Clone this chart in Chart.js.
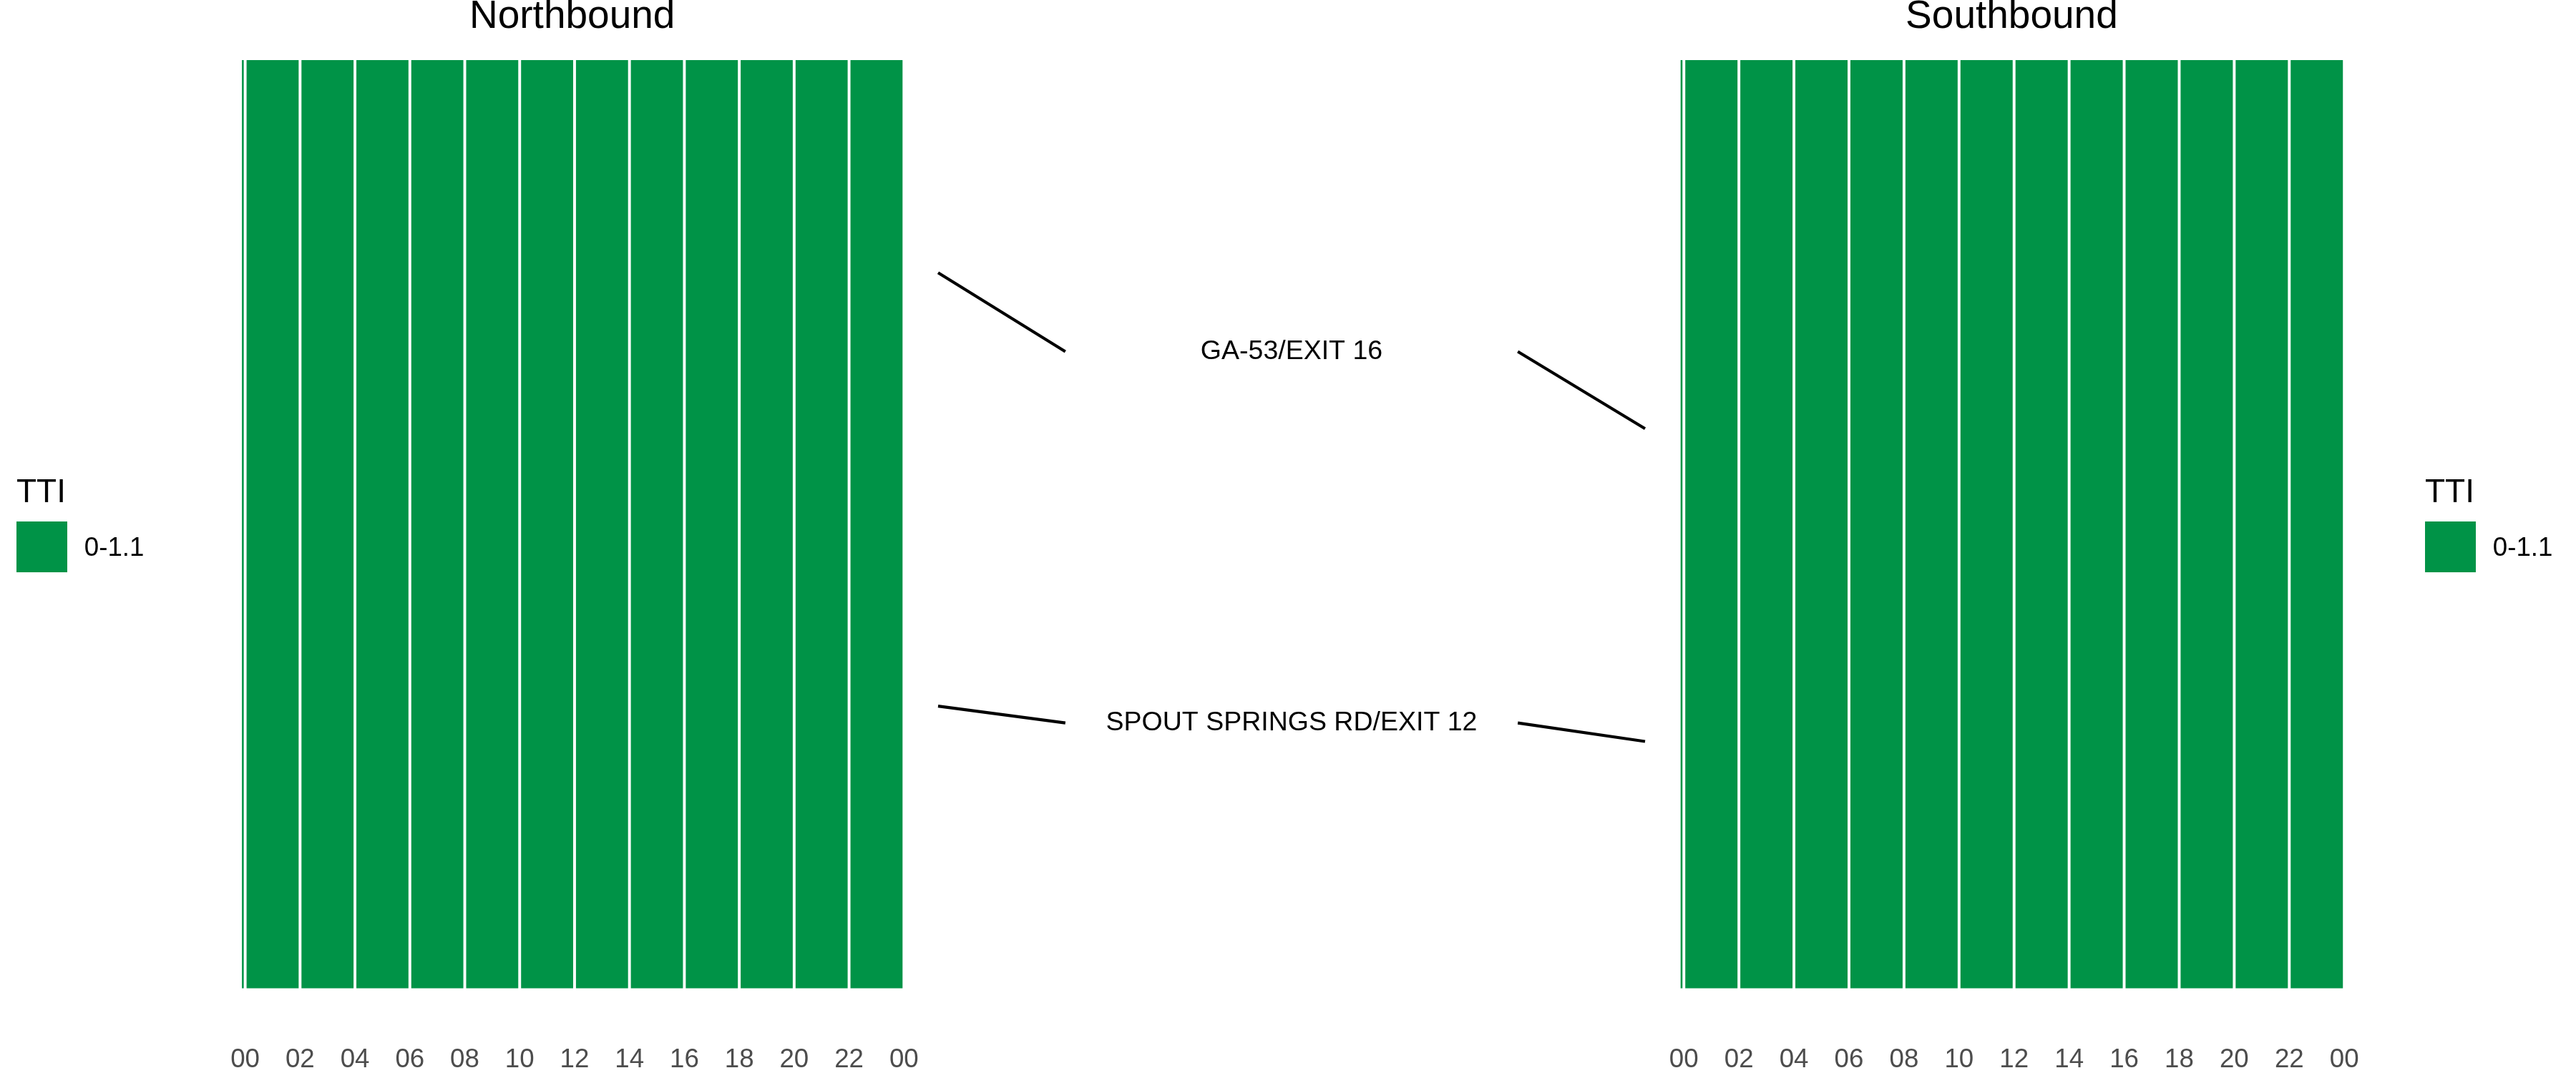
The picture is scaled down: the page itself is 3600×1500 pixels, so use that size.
<!DOCTYPE html>
<html>
<head>
<meta charset="utf-8">
<script src="https://cdn.jsdelivr.net/npm/chart.js@4.4.1/dist/chart.umd.min.js"></script>
<style>
html, body { margin: 0; padding: 0; background: #ffffff; width: 3600px; height: 1500px; overflow: hidden; }
canvas { position: absolute; top: 0; }
</style>
</head>
<body>
<canvas id="nb" width="1300" height="1500" style="left:0px"></canvas>
<canvas id="mid" width="1030" height="1500" style="left:1290px"></canvas>
<canvas id="sb" width="1300" height="1500" style="left:2300px"></canvas>
<script>
// ---------------- DATA ----------------
// Time tiles (hours of day): start and end of each tile
const tileStart = [-0.17, 0, 2, 4, 6, 8, 10, 12, 14, 16, 18, 20, 22];
const tileEnd   = [0, 2, 4, 6, 8, 10, 12, 14, 16, 18, 20, 22, 24];
// TTI class of each tile
const northboundTTI = ['0-1.1','0-1.1','0-1.1','0-1.1','0-1.1','0-1.1','0-1.1','0-1.1','0-1.1','0-1.1','0-1.1','0-1.1','0-1.1'];
const southboundTTI = ['0-1.1','0-1.1','0-1.1','0-1.1','0-1.1','0-1.1','0-1.1','0-1.1','0-1.1','0-1.1','0-1.1','0-1.1','0-1.1'];
// Legend classes and colours
const ttiClasses = ['0-1.1'];
const ttiColors  = ['#009347'];
// X tick values and labels
const tickValues = [0, 2, 4, 6, 8, 10, 12, 14, 16, 18, 20, 22, 24];
const tickLabels = ['00','02','04','06','08','10','12','14','16','18','20','22','00'];
// Exits: relative position down the segment (0 = top, 1 = bottom)
const exitNames          = ['GA-53/EXIT 16', 'SPOUT SPRINGS RD/EXIT 12'];
const exitPosNorthbound  = [0.229, 0.696];
const exitPosLabel       = [0.314, 0.714];
const exitPosSouthbound  = [0.397, 0.734];
// Connector x stops in the middle panel (0 = left edge, 1 = right edge)
const connectorX = [0, 0.18, 0.82, 1];
const exitLabelX = 0.5;

// ---------------- HELPERS ----------------
const FONT = '"Liberation Sans", Arial, Helvetica, sans-serif';
function colorFor(cls) { return ttiColors[ttiClasses.indexOf(cls)]; }

const tickLabelPlugin = {
  id: 'tickLabelPlugin',
  afterDraw(chart, args, opts) {
    const ctx = chart.ctx, xs = chart.scales.x;
    ctx.save();
    ctx.font = '36.7px ' + FONT;
    ctx.fillStyle = '#4D4D4D';
    ctx.textAlign = 'center';
    ctx.textBaseline = 'alphabetic';
    tickValues.forEach((v, i) => {
      ctx.fillText(tickLabels[i], xs.getPixelForValue(v), chart.chartArea.bottom + 110.5);
    });
    ctx.restore();
  }
};

const legendPlugin = {
  id: 'ttiLegend',
  afterDraw(chart, args, opts) {
    if (!opts || opts.x === undefined) return;
    const ctx = chart.ctx;
    ctx.save();
    ctx.fillStyle = '#000000';
    ctx.textAlign = 'left';
    ctx.textBaseline = 'alphabetic';
    ctx.font = '46px ' + FONT;
    ctx.fillText('TTI', opts.x, 702);
    ttiClasses.forEach((cls, i) => {
      const top = 729 + i * 71;
      ctx.fillStyle = ttiColors[i];
      ctx.fillRect(opts.x, top, 71, 71);
      ctx.fillStyle = '#000000';
      ctx.font = '36.7px ' + FONT;
      ctx.fillText(cls, opts.x + 94.8, top + 48);
    });
    ctx.restore();
  }
};

function tileDatasets(classes) {
  return tileStart.map((s, i) => ({
    label: classes[i],
    data: [[s, tileEnd[i]]],
    backgroundColor: colorFor(classes[i]),
    borderColor: '#ffffff',
    borderWidth: { left: 2.3, right: 2.3, top: 0, bottom: 0 },
    borderSkipped: false,
    grouped: false,
    barPercentage: 1,
    categoryPercentage: 1
  }));
}

function panelConfig(title, classes, padLeft, padRight, legendX) {
  return {
    type: 'bar',
    data: { labels: ['segment'], datasets: tileDatasets(classes) },
    options: {
      indexAxis: 'y',
      responsive: false,
      devicePixelRatio: 1,
      animation: false,
      layout: { padding: { left: padLeft, right: padRight, top: 0, bottom: 118.3 } },
      scales: {
        x: { type: 'linear', min: -0.17, max: 24, display: false },
        y: { type: 'category', display: false }
      },
      plugins: {
        legend: { display: false },
        tooltip: { enabled: false },
        title: {
          display: true,
          text: title,
          color: '#000000',
          font: { family: FONT, size: 55, weight: 'normal', lineHeight: 0.75 },
          padding: { top: 3, bottom: 39.75 }
        },
        ttiLegend: { x: legendX }
      }
    },
    plugins: [tickLabelPlugin, legendPlugin]
  };
}

new Chart(document.getElementById('nb'), panelConfig('Northbound', northboundTTI, 336.1, 1300 - 1263.3, 23));
new Chart(document.getElementById('sb'), panelConfig('Southbound', southboundTTI, 46.7, 1300 - 976.2, 3389 - 2300));

// Middle panel: connectors and exit labels
const connectorSets = [];
exitNames.forEach((name, i) => {
  connectorSets.push({
    data: [{ x: connectorX[0], y: exitPosNorthbound[i] }, { x: connectorX[1], y: exitPosLabel[i] }]
  });
  connectorSets.push({
    data: [{ x: connectorX[2], y: exitPosLabel[i] }, { x: connectorX[3], y: exitPosSouthbound[i] }]
  });
});

const exitLabelPlugin = {
  id: 'exitLabels',
  afterDatasetsDraw(chart) {
    const ctx = chart.ctx, xs = chart.scales.x, ys = chart.scales.y;
    ctx.save();
    ctx.font = '37.5px ' + FONT;
    ctx.fillStyle = '#000000';
    ctx.textAlign = 'center';
    ctx.textBaseline = 'middle';
    exitNames.forEach((name, i) => {
      ctx.fillText(name, xs.getPixelForValue(exitLabelX), ys.getPixelForValue(exitPosLabel[i]));
    });
    ctx.restore();
  }
};

new Chart(document.getElementById('mid'), {
  type: 'scatter',
  data: {
    datasets: connectorSets.map(d => ({
      data: d.data,
      showLine: true,
      borderColor: '#000000',
      borderWidth: 4.2,
      pointRadius: 0,
      pointHoverRadius: 0,
      fill: false,
      clip: false
    }))
  },
  options: {
    responsive: false,
    devicePixelRatio: 1,
    animation: false,
    layout: { padding: { left: 21, right: 21, top: 84, bottom: 118.3 } },
    scales: {
      x: { type: 'linear', min: 0, max: 1, display: false },
      y: { type: 'linear', min: 0, max: 1, reverse: true, display: false }
    },
    plugins: { legend: { display: false }, tooltip: { enabled: false }, title: { display: false } }
  },
  plugins: [exitLabelPlugin]
});
</script>
</body>
</html>
